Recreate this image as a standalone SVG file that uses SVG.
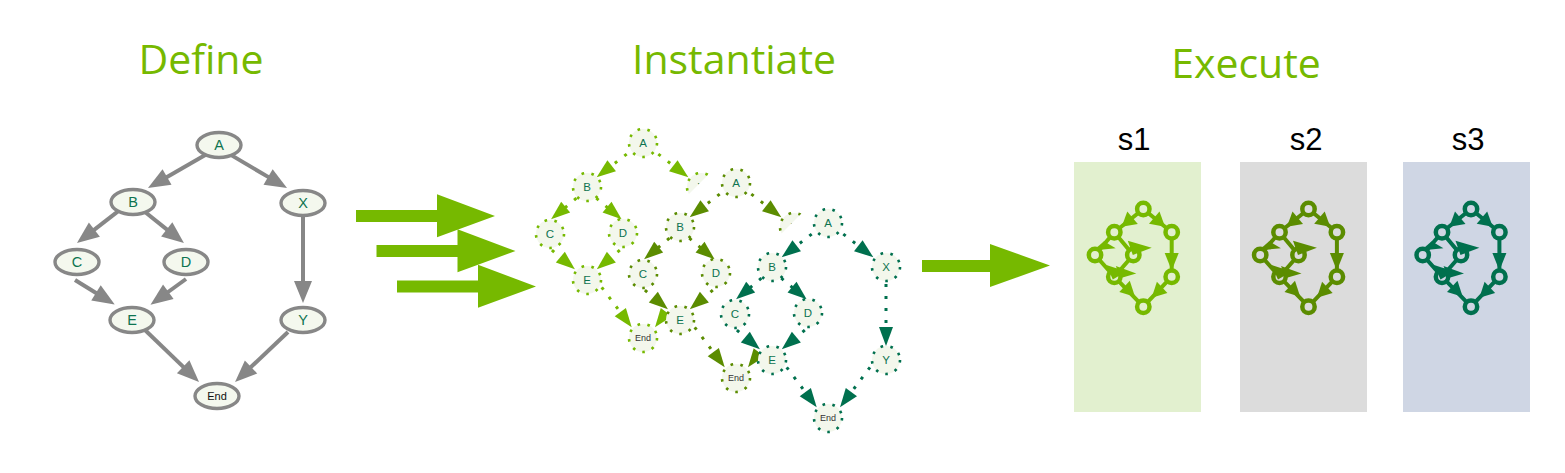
<svg xmlns="http://www.w3.org/2000/svg" xmlns:xlink="http://www.w3.org/1999/xlink" width="1565" height="473" viewBox="0 0 1565 473">
<style>
.title{font-family:"Open Sans","Liberation Sans",Arial,sans-serif;font-size:41px;fill:#76b900;text-anchor:middle}
.slabel{font-family:"Liberation Sans",Arial,sans-serif;font-size:31px;fill:#000;text-anchor:middle}
.dn ellipse{fill:#f4f8ee;stroke:#878787;stroke-width:3.4}
.dn text{font-family:"Liberation Sans",Arial,sans-serif;font-size:14.5px;fill:#0e7450;text-anchor:middle}
.dn text.end{font-size:11px;fill:#111}
.dedge{stroke:#878787;stroke-width:4;fill:none;marker-end:url(#ahg)}
.cn circle{fill:#f3f7ec;stroke-width:2.6;stroke-dasharray:2.6 7.4}
.cn text{font-family:"Liberation Sans",Arial,sans-serif;font-size:11.5px;fill:#0e7450;text-anchor:middle}
.cn text.end{font-size:9px;fill:#333}
.ce{fill:none;stroke-width:3;stroke-dasharray:3 9}
.c1 circle,.c1 .ce{stroke:#76b900}
.c2 circle,.c2 .ce{stroke:#5b8c00}
.c3 circle,.c3 .ce{stroke:#00704e}
.c1 .ce{marker-end:url(#ah1)}
.c2 .ce{marker-end:url(#ah2)}
.c3 .ce{marker-end:url(#ah3)}
.occ{fill:#fff}
.big{fill:#76b900}
</style>
<defs>
<marker id="ahg" markerUnits="userSpaceOnUse" markerWidth="22" markerHeight="18" refX="2" refY="9" orient="auto" overflow="visible"><path d="M0,0L22,9L0,18Z" fill="#878787"/></marker>
<marker id="ah1" markerUnits="userSpaceOnUse" markerWidth="19" markerHeight="14" refX="1" refY="7" orient="auto" overflow="visible"><path d="M0,0L19,7L0,14Z" fill="#76b900"/></marker>
<marker id="ah2" markerUnits="userSpaceOnUse" markerWidth="19" markerHeight="14" refX="1" refY="7" orient="auto" overflow="visible"><path d="M0,0L19,7L0,14Z" fill="#5b8c00"/></marker>
<marker id="ah3" markerUnits="userSpaceOnUse" markerWidth="19" markerHeight="14" refX="1" refY="7" orient="auto" overflow="visible"><path d="M0,0L19,7L0,14Z" fill="#00704e"/></marker>
<path id="bigArrow" d="M0,-6H81V-21.7L139,0L81,21.3V6H0Z"/>
<g id="mini">
<path d="M0,0L-29,23.3M0,0L28.4,23.3M-29,23.3L-48.3,46M-29,23.3L-10,46M-48.3,46L-29,67.7M-10,46L-29,67.7M-29,67.7L0,97.7M28.4,23.3L28.4,67.7M28.4,67.7L0,97.7" fill="none" stroke="currentColor" stroke-width="4"/>
<g stroke="currentColor" stroke-width="4.5">
<circle cx="0" cy="0" r="6.2"/><circle cx="-29" cy="23.3" r="6.2"/><circle cx="28.4" cy="23.3" r="6.2"/><circle cx="-48.3" cy="46" r="6.2"/><circle cx="-10" cy="46" r="6.2"/><circle cx="-29" cy="67.7" r="6.2"/><circle cx="28.4" cy="67.7" r="6.2"/><circle cx="0" cy="97.7" r="6.2"/>
</g>
<g fill="currentColor">
<polygon points="-21.6,17.7 -5.5,15 -16,2.5"/>
<polygon points="21.7,17.7 5.7,14.8 16.2,2.5"/>
<polygon points="28.4,61.5 21.4,44 35.4,44"/>
<polygon points="-8.3,87.7 -24,83 -13.5,71.8"/>
<polygon points="8.4,88.7 24.1,84 13.6,72.8"/>
<polygon points="-50,41.5 -39.3,32.3 -27.6,39.3"/>
<polygon points="-15.5,31.7 -10.5,46 8.4,38.7"/>
<polygon points="-37,56 -30.5,70.5 -17,62.5"/>
<polygon points="-27.5,57 -22.5,69 -7,64.5"/>
</g>
</g>
</defs>
<rect width="1565" height="473" fill="#fff"/>

<text class="title" x="201" y="74">Define</text>
<text class="title" x="734" y="74">Instantiate</text>
<text class="title" x="1246" y="78">Execute</text>

<!-- Define graph -->
<g id="define">
<g id="define-connectors">
<path class="dedge" d="M208.7,153L165.3,178"/>
<path class="dedge" d="M227.4,152.9L269.8,177.9"/>
<path class="dedge" d="M119.9,209.9L92.8,230.8"/>
<path class="dedge" d="M142.2,209.8L168.3,230.6"/>
<path class="dedge" d="M75,280L97.7,294"/>
<path class="dedge" d="M186,279L166.7,293"/>
<path class="dedge" d="M145,330L184.6,368.1"/>
<path class="dedge" d="M288,332L249.6,368.3"/>
<path class="dedge" d="M303,214L303,283"/>
</g>
<g id="d-A" class="dn"><ellipse cx="219" cy="145" rx="22" ry="12.5"/><text x="219" y="150">A</text></g>
<g id="d-B" class="dn"><ellipse cx="133" cy="202" rx="22" ry="12.5"/><text x="133" y="207">B</text></g>
<g id="d-X" class="dn"><ellipse cx="303" cy="203" rx="22" ry="12.5"/><text x="303" y="208">X</text></g>
<g id="d-C" class="dn"><ellipse cx="77" cy="262" rx="22" ry="12.5"/><text x="77" y="267">C</text></g>
<g id="d-D" class="dn"><ellipse cx="186" cy="262" rx="22" ry="12.5"/><text x="186" y="267">D</text></g>
<g id="d-E" class="dn"><ellipse cx="132" cy="320" rx="22" ry="12.5"/><text x="132" y="325">E</text></g>
<g id="d-Y" class="dn"><ellipse cx="303" cy="320" rx="22" ry="12.5"/><text x="303" y="325">Y</text></g>
<g id="d-End" class="dn"><ellipse cx="217" cy="396" rx="22" ry="12.5"/><text class="end" x="217" y="400">End</text></g>
</g>

<!-- big arrows -->
<g id="arrows">
<use xlink:href="#bigArrow" class="big" transform="translate(356,216)"/>
<use xlink:href="#bigArrow" class="big" transform="translate(376.5,251)"/>
<use xlink:href="#bigArrow" class="big" transform="translate(397,286.5)"/>
</g>

<!-- Instantiate copy 1 -->
<g id="copy1" class="c1" transform="translate(643,143)">
<g id="copy1-connectors">
<path class="ce" d="M-16.3,11.1L-32.1,23.3"/>
<path class="ce" d="M15.3,11.1L31.1,23.3"/>
<path class="ce" d="M-66.6,55.2L-78.1,64.8"/>
<path class="ce" d="M-46.7,55.2L-35.2,64.8"/>
<path class="ce" d="M-91.1,107.1L-81.9,114.8"/>
<path class="ce" d="M-23.2,107.1L-32.4,114.8"/>
<path class="ce" d="M-41.3,144.3L-22.1,169.9"/>
<path class="ce" d="M42,144.3L22.8,169.9"/>
<path class="ce" d="M58,61L58,105"/>
</g>
<g id="c1-A" class="cn"><circle cx="0" cy="0" r="14"/><text x="0" y="4">A</text></g>
<g id="c1-B" class="cn"><circle cx="-56" cy="44" r="14"/><text x="-56" y="48">B</text></g>
<g id="c1-X" class="cn"><circle cx="58" cy="44" r="14"/><text x="58" y="48">X</text></g>
<g id="c1-C" class="cn"><circle cx="-93" cy="91" r="14"/><text x="-93" y="95">C</text></g>
<g id="c1-D" class="cn"><circle cx="-20" cy="90" r="14"/><text x="-20" y="94">D</text></g>
<g id="c1-E" class="cn"><circle cx="-56" cy="137" r="14"/><text x="-56" y="141">E</text></g>
<g id="c1-Y" class="cn"><circle cx="58" cy="137" r="14"/><text x="58" y="141">Y</text></g>
<g id="c1-End" class="cn"><circle cx="0" cy="195" r="14"/><text class="end" x="0" y="198">End</text></g>
</g>

<polygon class="occ" transform="translate(736,183)" points="-123,87 40,-76 85,-76 85,250"/>

<!-- Instantiate copy 2 -->
<g id="copy2" class="c2" transform="translate(736,183)">
<g id="copy2-connectors">
<path class="ce" d="M-16.3,11.1L-32.1,23.3"/>
<path class="ce" d="M15.3,11.1L31.1,23.3"/>
<path class="ce" d="M-66.6,55.2L-78.1,64.8"/>
<path class="ce" d="M-46.7,55.2L-35.2,64.8"/>
<path class="ce" d="M-91.1,107.1L-81.9,114.8"/>
<path class="ce" d="M-23.2,107.1L-32.4,114.8"/>
<path class="ce" d="M-41.3,144.3L-22.1,169.9"/>
<path class="ce" d="M42,144.3L22.8,169.9"/>
<path class="ce" d="M58,61L58,105"/>
</g>
<g id="c2-A" class="cn"><circle cx="0" cy="0" r="14"/><text x="0" y="4">A</text></g>
<g id="c2-B" class="cn"><circle cx="-56" cy="44" r="14"/><text x="-56" y="48">B</text></g>
<g id="c2-X" class="cn"><circle cx="58" cy="44" r="14"/><text x="58" y="48">X</text></g>
<g id="c2-C" class="cn"><circle cx="-93" cy="91" r="14"/><text x="-93" y="95">C</text></g>
<g id="c2-D" class="cn"><circle cx="-20" cy="90" r="14"/><text x="-20" y="94">D</text></g>
<g id="c2-E" class="cn"><circle cx="-56" cy="137" r="14"/><text x="-56" y="141">E</text></g>
<g id="c2-Y" class="cn"><circle cx="58" cy="137" r="14"/><text x="58" y="141">Y</text></g>
<g id="c2-End" class="cn"><circle cx="0" cy="195" r="14"/><text class="end" x="0" y="198">End</text></g>
</g>

<polygon class="occ" transform="translate(828,223)" points="-123,87 40,-76 85,-76 85,250"/>

<!-- Instantiate copy 3 -->
<g id="copy3" class="c3" transform="translate(828,223)">
<g id="copy3-connectors">
<path class="ce" d="M-16.3,11.1L-32.1,23.3"/>
<path class="ce" d="M15.3,11.1L31.1,23.3"/>
<path class="ce" d="M-66.6,55.2L-78.1,64.8"/>
<path class="ce" d="M-46.7,55.2L-35.2,64.8"/>
<path class="ce" d="M-91.1,107.1L-81.9,114.8"/>
<path class="ce" d="M-23.2,107.1L-32.4,114.8"/>
<path class="ce" d="M-41.3,144.3L-22.1,169.9"/>
<path class="ce" d="M42,144.3L22.8,169.9"/>
<path class="ce" d="M58,61L58,105"/>
</g>
<g id="c3-A" class="cn"><circle cx="0" cy="0" r="14"/><text x="0" y="4">A</text></g>
<g id="c3-B" class="cn"><circle cx="-56" cy="44" r="14"/><text x="-56" y="48">B</text></g>
<g id="c3-X" class="cn"><circle cx="58" cy="44" r="14"/><text x="58" y="48">X</text></g>
<g id="c3-C" class="cn"><circle cx="-93" cy="91" r="14"/><text x="-93" y="95">C</text></g>
<g id="c3-D" class="cn"><circle cx="-20" cy="90" r="14"/><text x="-20" y="94">D</text></g>
<g id="c3-E" class="cn"><circle cx="-56" cy="137" r="14"/><text x="-56" y="141">E</text></g>
<g id="c3-Y" class="cn"><circle cx="58" cy="137" r="14"/><text x="58" y="141">Y</text></g>
<g id="c3-End" class="cn"><circle cx="0" cy="195" r="14"/><text class="end" x="0" y="198">End</text></g>
</g>

<!-- Execute arrow -->
<path class="big" d="M922,260H990V244L1050,265.5L990,287V272H922Z"/>

<!-- Execute lanes -->
<g id="lane-s1">
<text class="slabel" x="1134" y="150">s1</text>
<rect x="1074" y="162" width="127" height="250" fill="#e2f0cf"/>
<use xlink:href="#mini" transform="translate(1143.3,209)" color="#76b900" fill="#e2f0cf"/>
</g>
<g id="lane-s2">
<text class="slabel" x="1306" y="150">s2</text>
<rect x="1240" y="162" width="127" height="250" fill="#dcdcdc"/>
<use xlink:href="#mini" transform="translate(1308.5,209)" color="#5b8c00" fill="#dcdcdc"/>
</g>
<g id="lane-s3">
<text class="slabel" x="1468" y="150">s3</text>
<rect x="1403" y="162" width="127" height="250" fill="#cfd6e4"/>
<use xlink:href="#mini" transform="translate(1471,209)" color="#00704e" fill="#cfd6e4"/>
</g>
</svg>
